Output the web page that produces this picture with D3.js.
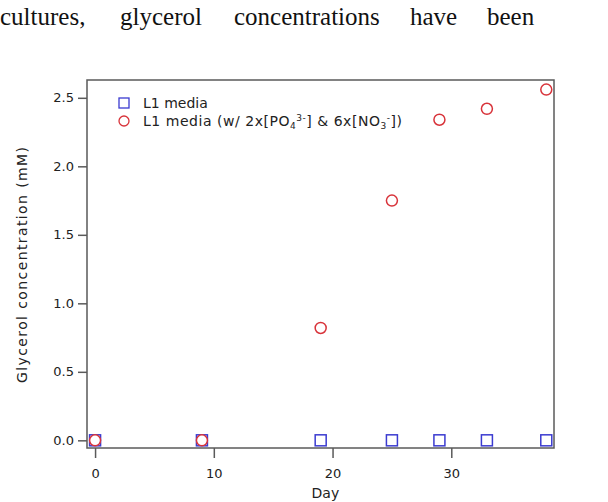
<!DOCTYPE html>
<html>
<head>
<meta charset="utf-8">
<script src="https://cdn.jsdelivr.net/npm/d3@7"></script>
<style>
  body { margin: 0; background: #fff; }
  svg { display: block; }
</style>
</head>
<body>
<svg id="chart" width="608" height="502"></svg>
<script>
// sampling days and measured glycerol (mM)
let days = [0, 9, 19, 25, 29, 33, 38];
let plainMedia = [0, 0, 0, 0, 0, 0, 0];
let enrichedMedia = [0, 0, 0.82, 1.75, 2.34, 2.42, 2.56];
let xTicks = [0, 10, 20, 30];
let yTicks = [0, 0.5, 1.0, 1.5, 2.0, 2.5];
let captionWords = ["cultures,", "glycerol", "concentrations", "have", "been"];
let captionX = [0, 120, 234, 410, 487];

let svg = d3.select("#chart");
let plotL = 87, plotR = 554, plotT = 80, plotB = 448;
let frameCol = "#5a5a5a";
let blue = "#3b3bd0", red = "#d8333a";

// caption text from the page above the figure
svg.selectAll("text.cap")
  .data(captionWords)
  .enter().append("text")
  .attr("class", "cap")
  .attr("x", function(d, i){ return captionX[i]; })
  .attr("y", 25)
  .attr("font-family", "Liberation Serif, serif")
  .attr("font-size", "25px")
  .attr("fill", "#111")
  .text(function(d){ return d; });

let x = d3.scaleLinear().domain([-0.68, 38.65]).range([plotL, plotR]);
let y = d3.scaleLinear().domain([-0.056, 2.63]).range([plotB, plotT]);

//frame
svg.append("rect")
  .attr("x", plotL).attr("y", plotT)
  .attr("width", plotR-plotL).attr("height", plotB-plotT)
  .attr("fill", "none").attr("stroke", frameCol).attr("stroke-width", 1.5);

let font = "DejaVu Sans, sans-serif";

let xAxis = svg.append("g")
  .attr("transform", "translate(0," + plotB + ")")
  .call(d3.axisBottom(x).tickValues(xTicks).tickSize(10).tickPadding(11).tickFormat(d3.format("d")));
let yAxis = svg.append("g")
  .attr("transform", "translate(" + plotL + ",0)")
  .call(d3.axisLeft(y).tickValues(yTicks).tickSize(9).tickPadding(4).tickFormat(d3.format(".1f")));

for(let ax of [xAxis, yAxis]){
  ax.select(".domain").remove();
  ax.selectAll("line").attr("stroke", frameCol).attr("stroke-width", 1.5);
  ax.selectAll("text").attr("font-family", font).attr("font-size", "13px").attr("fill", "#222");
}

svg.append("text")
  .attr("x", x(19.4)).attr("y", 498)
  .attr("text-anchor", "middle")
  .attr("font-family", font).attr("font-size", "14px").attr("fill", "#222")
  .text("Day");

svg.append("text")
  .attr("transform", "translate(27," + 265 + ") rotate(-90)")
  .attr("text-anchor", "middle")
  .attr("font-family", font).attr("font-size", "14px").attr("fill", "#222")
  .attr("textLength", 236).attr("lengthAdjust", "spacing")
  .text("Glycerol concentration (mM)");

//markers
let sq = 11;
svg.selectAll("rect.plain")
  .data(days)
  .enter().append("rect")
  .attr("class", "plain")
  .attr("x", function(d){ return x(d) - sq/2; })
  .attr("y", function(d, i){ return y(plainMedia[i]) - sq/2; })
  .attr("width", sq).attr("height", sq)
  .attr("fill", "#fff").attr("stroke", blue).attr("stroke-width", 1.5);

svg.selectAll("circle.enriched")
  .data(days)
  .enter().append("circle")
  .attr("class", "enriched")
  .attr("cx", function(d){ return x(d); })
  .attr("cy", function(d, i){ return y(enrichedMedia[i]); })
  .attr("r", 5.5)
  .attr("fill", "#fff").attr("stroke", red).attr("stroke-width", 1.5);

//legend
let legend = svg.append("g").attr("font-family", font).attr("font-size", "14px").attr("fill", "#222");
legend.append("rect")
  .attr("x", 119).attr("y", 98).attr("width", 10).attr("height", 10)
  .attr("fill", "none").attr("stroke", blue).attr("stroke-width", 1.3);
legend.append("text").attr("x", 143).attr("y", 108).text("L1 media");
legend.append("circle")
  .attr("cx", 124).attr("cy", 121).attr("r", 5)
  .attr("fill", "none").attr("stroke", red).attr("stroke-width", 1.3);
let t2 = legend.append("text").attr("x", 143).attr("y", 126)
  .attr("textLength", 259).attr("lengthAdjust", "spacing");
t2.append("tspan").text("L1 media (w/ 2x[PO");
t2.append("tspan").attr("font-size", "9px").attr("dy", 3).text("4");
t2.append("tspan").attr("font-size", "9px").attr("dy", -8).text("3-");
t2.append("tspan").attr("dy", 5).text("] & 6x[NO");
t2.append("tspan").attr("font-size", "9px").attr("dy", 3).text("3");
t2.append("tspan").attr("font-size", "9px").attr("dy", -8).text("-");
t2.append("tspan").attr("dy", 5).text("])");
</script>
</body>
</html>
